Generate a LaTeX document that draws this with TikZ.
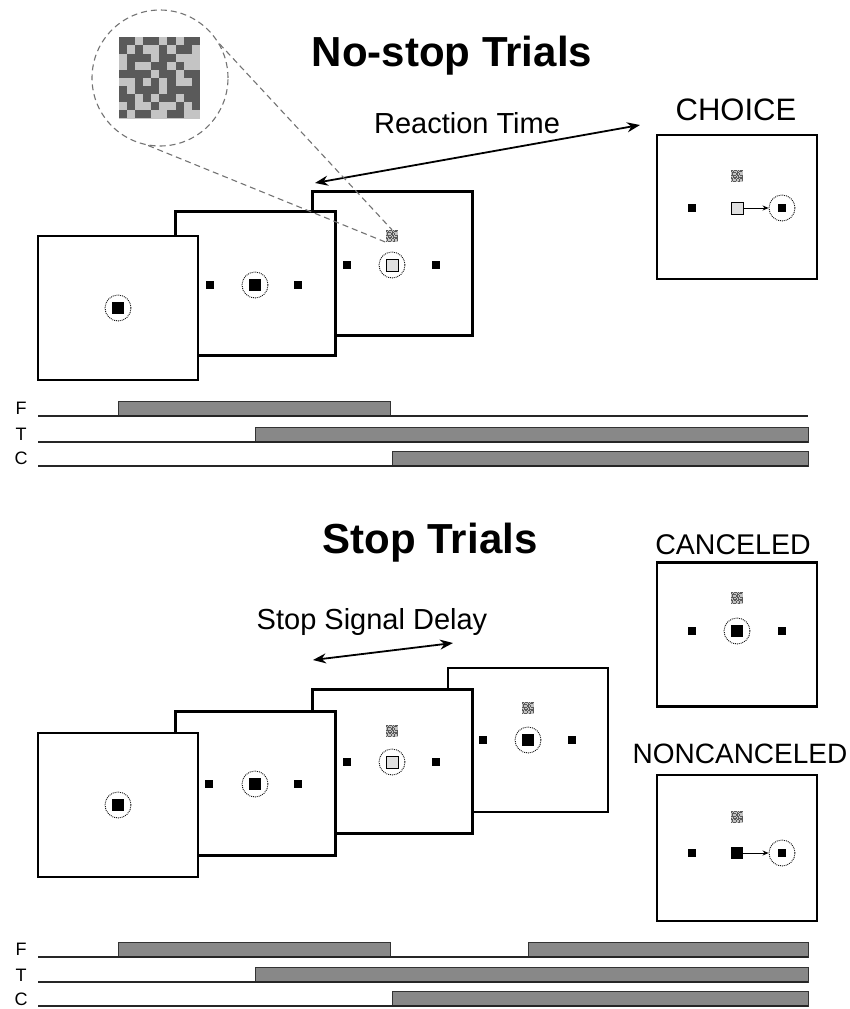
\documentclass[tikz,border=0pt]{standalone}
\usepackage{fontspec}
\setmainfont{Liberation Sans}
\usepackage{tikz}
\usetikzlibrary{arrows.meta}
\definecolor{bargray}{HTML}{888888}
\definecolor{chkdark}{HTML}{5A5A5A}
\definecolor{chklight}{HTML}{C4C4C4}
\tikzstyle{scr} = [draw, line width=2.4pt, fill=white, minimum width=160pt, minimum height=144pt, inner sep=0pt]
\tikzstyle{fixpt} = [fill=black, minimum size=11.5pt, inner sep=0pt]
\tikzstyle{tgt} = [fill=black, minimum size=8pt, inner sep=0pt]
\tikzstyle{openfix} = [draw, fill=black!12, line width=0.8pt, minimum size=12pt, inner sep=0pt]
\tikzstyle{ring} = [circle, draw, densely dotted, line width=0.9pt, minimum size=26pt, inner sep=0pt]
\tikzstyle{sig} = [minimum size=12pt, inner sep=0pt]
\tikzstyle{dd} = [{Stealth[length=13pt,width=10pt]}-{Stealth[length=13pt,width=10pt]}, line width=1.8pt]
\tikzstyle{sacc} = [-{Stealth[length=6pt,width=5pt]}, line width=0.9pt]
\tikzstyle{zoomline} = [draw=black!55, line width=1.1pt, dash pattern=on 6pt off 4pt]
\tikzstyle{tbar} = [draw=black!80, fill=bargray, line width=0.9pt]
\tikzstyle{axisline} = [draw=black!85, line width=1.1pt]
\tikzstyle{lbl} = [font=\fontsize{29}{34}\selectfont, anchor=base]
\tikzstyle{ttl} = [font=\fontsize{42}{48}\selectfont\bfseries, anchor=base]
\tikzstyle{rowlbl} = [font=\fontsize{18}{20}\selectfont]

% stop signal pattern, 1 = dark cell
\def\chkrows{{1,1,0,1,1,0,1,0,1,1},{1,0,1,0,0,1,0,1,1,0},{0,1,1,1,0,1,1,0,0,0},{0,1,0,0,1,1,0,1,0,0},{1,1,1,1,0,1,1,0,1,1},{0,0,1,0,1,0,1,0,0,1},{1,0,1,1,1,0,1,1,1,1},{1,1,0,1,0,1,1,0,1,1},{0,1,0,0,1,0,0,1,0,1},{1,0,1,1,0,0,1,1,0,0}}
\newcommand{\checker}[2]{%
	\fill[chklight] (#1.north west) rectangle (#1.south east);
	\begin{scope}[shift={(#1.north west)}]
		\foreach [count=\ri from 0] \chkrow in \chkrows {
			\foreach [count=\ci from 0] \cb in \chkrow {
				\ifnum\cb=1 \fill[chkdark] (\ci*#2,\ri*#2) rectangle ++(#2,#2); \fi
			}
		}
	\end{scope}}

\begin{document}
\begin{tikzpicture}[x=1pt,y=-1pt]
			\useasboundingbox (0,0) rectangle (849,1009);
			% no-stop trials
			\node[ttl] (nstitle) at (452,66) {No-stop Trials};
			\node[scr] (f3) at (392.5,263.5) {};
			\node[tgt] (f3l) at (347,265) {};
			\node[tgt] (f3r) at (436,265) {};
			\node[ring] (f3rng) at (392,265) {};
			\node[openfix] (f3fix) at (392,265) {};
			\node[sig] (s3) at (392,236) {};
			\checker{s3}{1.2}
			\node[scr] (f2) at (255.5,283.5) {};
			\node[tgt] (f2l) at (210,285) {};
			\node[tgt] (f2r) at (298,285) {};
			\node[ring] (f2rng) at (255,285) {};
			\node[fixpt] (f2fix) at (255,285) {};
			\node[scr] (f1) at (118,308) {};
			\node[ring] (f1rng) at (118,308) {};
			\node[fixpt] (f1fix) at (118,308) {};
			\node[scr] (cho) at (737,207) {};
			\node[lbl, font=\fontsize{31}{36}\selectfont] (cholbl) at (736,120) {CHOICE};
			\node[sig] (chos) at (737,176) {};
			\checker{chos}{1.2}
			\node[tgt] (chol) at (692,208) {};
			\node[openfix] (chofix) at (737,208) {};
			\node[ring] (chorng) at (782,208) {};
			\node[tgt] (chor) at (782,208) {};
			\draw[sacc] (chofix.east) -- (chorng.west);
			\coordinate (rtA) at (315,183);
			\coordinate (rtB) at (640,125);
			\draw[dd] (rtA) -- (rtB);
			\node[lbl] (rtlbl) at (467,133) {Reaction Time};
			% magnified stop signal
			\node[circle, zoomline, minimum size=136pt, inner sep=0pt] (lens) at (160,78) {};
			\node[sig, minimum size=81pt] (bigsig) at (159.5,78) {};
			\checker{bigsig}{8.1}
			\draw[zoomline] (lens.30) -- (s3.north);
			\draw[zoomline] (lens.260) -- (s3.south west);
			% no-stop time lines
			\node[rowlbl] (nsF) at (21,408) {F};
			\node[rowlbl] (nsT) at (21,434) {T};
			\node[rowlbl] (nsC) at (21,458) {C};
			\draw[tbar] (118,401) rectangle (390,416);
			\draw[axisline] (38,416) -- (808,416);
			\draw[tbar] (255,427) rectangle (808,442);
			\draw[axisline] (38,442) -- (808,442);
			\draw[tbar] (392,451) rectangle (808,466);
			\draw[axisline] (38,466) -- (808,466);
			% stop trials
			\node[ttl] (sttitle) at (430,553) {Stop Trials};
			\node[scr] (g4) at (528,740) {};
			\node[tgt] (g4l) at (483,740) {};
			\node[tgt] (g4r) at (572,740) {};
			\node[ring] (g4rng) at (528,740) {};
			\node[fixpt] (g4fix) at (528,740) {};
			\node[sig] (s4) at (528,708) {};
			\checker{s4}{1.2}
			\node[scr] (g3) at (392.5,761.5) {};
			\node[tgt] (g3l) at (347,762) {};
			\node[tgt] (g3r) at (436,762) {};
			\node[ring] (g3rng) at (392,762) {};
			\node[openfix] (g3fix) at (392,762) {};
			\node[sig] (sg3) at (392,731) {};
			\checker{sg3}{1.2}
			\node[scr] (g2) at (255.5,783.5) {};
			\node[tgt] (g2l) at (209,784) {};
			\node[tgt] (g2r) at (298,784) {};
			\node[ring] (g2rng) at (255,784) {};
			\node[fixpt] (g2fix) at (255,784) {};
			\node[scr] (g1) at (118,805) {};
			\node[ring] (g1rng) at (118,805) {};
			\node[fixpt] (g1fix) at (118,805) {};
			\coordinate (ssdA) at (313,660);
			\coordinate (ssdB) at (453,643);
			\draw[dd] (ssdA) -- (ssdB);
			\node[lbl] (ssdlbl) at (372,629) {Stop Signal Delay};
			\node[scr] (can) at (737,634.5) {};
			\node[lbl, font=\fontsize{28.5}{34}\selectfont] (canlbl) at (733,554) {CANCELED};
			\node[sig] (cans) at (737,598) {};
			\checker{cans}{1.2}
			\node[tgt] (canl) at (692,631) {};
			\node[tgt] (canr) at (782,631) {};
			\node[ring] (canrng) at (737,631) {};
			\node[fixpt] (canfix) at (737,631) {};
			\node[scr, minimum height=146pt] (nc) at (737,848) {};
			\node[lbl, font=\fontsize{28}{34}\selectfont] (nclbl) at (740,763) {NONCANCELED};
			\node[sig] (ncs) at (737,817) {};
			\checker{ncs}{1.2}
			\node[tgt] (ncl) at (692,853) {};
			\node[fixpt] (ncfix) at (737,853) {};
			\node[ring] (ncrng) at (782,853) {};
			\node[tgt] (ncr) at (782,853) {};
			\draw[sacc] (ncfix.east) -- (ncrng.west);
			% stop time lines
			\node[rowlbl] (stF) at (21,949) {F};
			\node[rowlbl] (stT) at (21,975) {T};
			\node[rowlbl] (stC) at (21,999) {C};
			\draw[tbar] (118,942) rectangle (390,957);
			\draw[tbar] (528,942) rectangle (808,957);
			\draw[axisline] (38,957) -- (808,957);
			\draw[tbar] (255,967) rectangle (808,982);
			\draw[axisline] (38,982) -- (808,982);
			\draw[tbar] (392,991) rectangle (808,1006);
			\draw[axisline] (38,1006) -- (808,1006);
		\end{tikzpicture}
\end{document}
